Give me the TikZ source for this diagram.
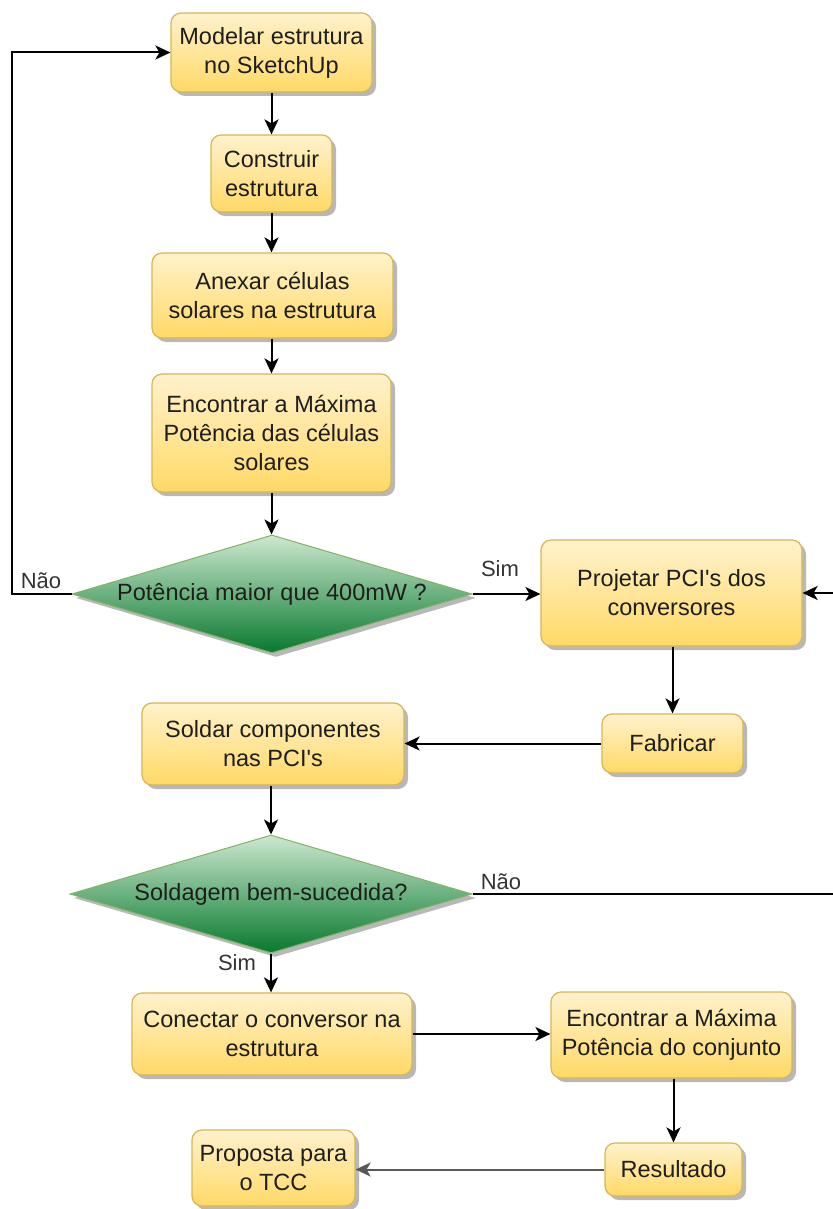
\documentclass[tikz,border=0pt]{standalone}
\usepackage{fontspec}
\newfontfamily\arial{Liberation Sans}
\usetikzlibrary{shapes.geometric,shadows,arrows.meta}
\definecolor{boxtop}{HTML}{FFF2CC}
\definecolor{boxbot}{HTML}{FFD966}
\definecolor{boxline}{HTML}{D6B656}
\definecolor{dtop}{HTML}{CDE8CF}
\definecolor{dbot}{HTML}{07792E}
\definecolor{dline}{HTML}{82B366}
\definecolor{txt}{HTML}{1E1E1E}
\definecolor{lbl}{HTML}{333333}
\tikzset{
  every node/.style={font=\arial\fontsize{23.5}{29}\selectfont, text=txt},
  procbox/.style={draw=boxline, line width=1.2pt, rounded corners=10pt,
    top color=boxtop, bottom color=boxbot, align=center, inner sep=0pt,
    drop shadow={shadow xshift=4pt, shadow yshift=-4pt, fill=black!35, opacity=0.8}},
  decis/.style={diamond, draw=dline, line width=1pt, top color=dtop, bottom color=dbot,
    inner sep=0pt, aspect=3.4,
    drop shadow={shadow xshift=4pt, shadow yshift=-4pt, fill=black!35, opacity=0.8}},
  conn/.style={draw=black, line width=2pt, -{Stealth[length=15pt,width=14pt,inset=4pt]}},
  plainconn/.style={draw=black, line width=2pt},
  edgelbl/.style={font=\arial\fontsize{22}{26}\selectfont, text=lbl}
}
\begin{document}
\begin{tikzpicture}[x=1pt,y=-1pt]
\useasboundingbox (0,0) rectangle (832,1209);
% boxes
\node[procbox, minimum width=201pt, minimum height=79pt] (m1) at (271.5,52.5) {Modelar estrutura\\no SketchUp};
\node[procbox, minimum width=121pt, minimum height=77pt] (m2) at (271.5,173.5) {Construir\\estrutura};
\node[procbox, minimum width=241pt, minimum height=85pt] (m3) at (272.5,295.5) {Anexar células\\solares na estrutura};
\node[procbox, minimum width=239pt, minimum height=118pt] (m4) at (271.5,433) {Encontrar a Máxima\\Potência das células\\solares};
\node[decis, minimum width=400pt, minimum height=118pt] (d1) at (272,594) {};
\node (d1t) at (272,594) {Potência maior que 400mW ?};
\node[procbox, minimum width=261pt, minimum height=106pt] (p) at (671.5,593) {Projetar PCI's dos\\conversores};
\node[procbox, minimum width=141pt, minimum height=59pt] (f) at (672.5,743.5) {Fabricar};
\node[procbox, minimum width=262pt, minimum height=82pt] (s) at (273,744) {Soldar componentes\\nas PCI's};
\node[decis, minimum width=402pt, minimum height=118pt] (d2) at (271,894) {};
\node (d2t) at (271,894) {Soldagem bem-sucedida?};
\node[procbox, minimum width=280pt, minimum height=82pt] (c) at (272,1034) {Conectar o conversor na\\estrutura};
\node[procbox, minimum width=241pt, minimum height=86pt] (e) at (671.5,1035) {Encontrar a Máxima\\Potência do conjunto};
\node[procbox, minimum width=137pt, minimum height=53pt] (r) at (673.5,1169.5) {Resultado};
\node[procbox, minimum width=163pt, minimum height=76pt] (t) at (273.5,1168) {Proposta para\\o TCC};
% off-picture coordinates
\coordinate (loopa) at (12,594);
\coordinate (loopb) at (12,52.5);
\coordinate (rin) at (834,593);
\coordinate (rout) at (834,894);
% connectors
\draw[conn] (m1.south) -- (m1.south |- m2.north);
\draw[conn] (m2.south) -- (m2.south |- m3.north);
\draw[conn] (m3.south -| m4.north) -- (m4.north);
\draw[conn] (m4.south) -- (m4.south |- d1.north);
\draw[conn] (d1.west) -- (loopa) -- (loopb) -- (m1.west);
\draw[conn] (d1.east) -- (d1.east -| p.west);
\draw[conn] (rin) -- (rin -| p.east);
\draw[conn] (p.south -| f.north) -- (f.north);
\draw[conn] (f.west) -- (f.west -| s.east);
\draw[conn] (s.south -| d2.north) -- (d2.north);
\draw[plainconn] (d2.east) -- (rout);
\draw[conn] (d2.south) -- (d2.south |- c.north);
\draw[conn] (c.east) -- (c.east -| e.west);
\draw[conn] (e.south -| r.north) -- (r.north);
\draw[conn, draw=black!65] (r.west) -- (r.west -| t.east);
% labels
\node[edgelbl] (lnao1) at (41,581) {Não};
\node[edgelbl] (lsim1) at (500,569) {Sim};
\node[edgelbl] (lnao2) at (501,882) {Não};
\node[edgelbl] (lsim2) at (237,963) {Sim};
\end{tikzpicture}
\end{document}
